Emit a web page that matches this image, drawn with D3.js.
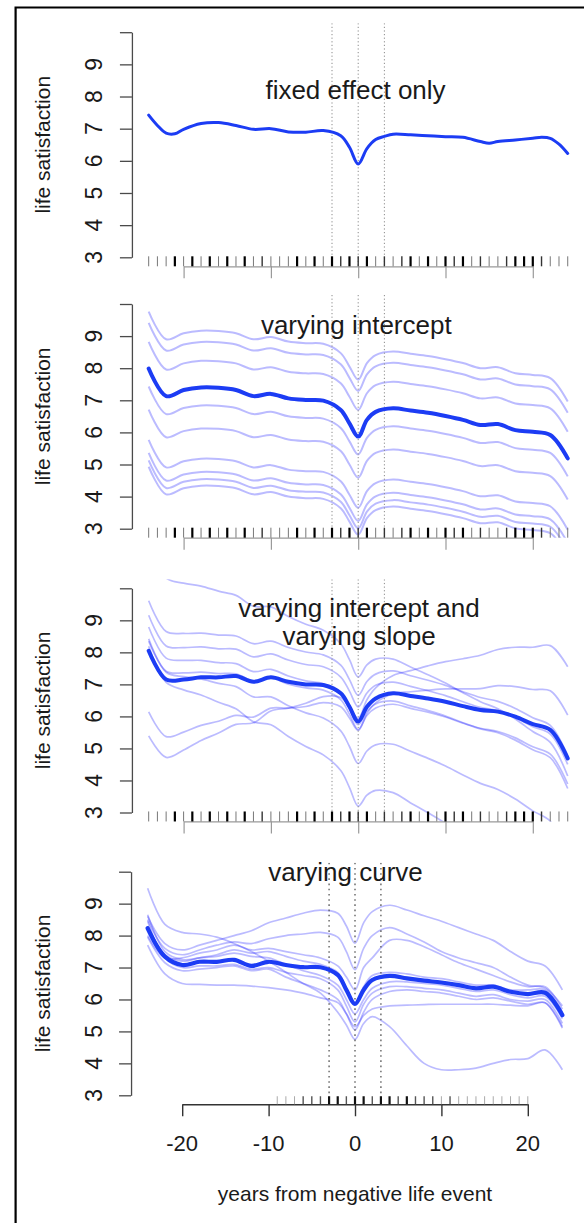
<!DOCTYPE html>
<html>
<head>
<meta charset="utf-8">
<script src="https://cdn.jsdelivr.net/npm/d3@7"></script>
<style>
body { margin: 0; background: #fff; }
svg { display: block; }
text { font-family: "Liberation Sans", Arial, Helvetica, sans-serif; fill: #1a1a1a; }
</style>
</head>
<body>
<script>
// ---- data ----
var years = [-24,-22,-20,-18,-16,-14,-12,-10,-8,-6,-4,-2,-1,0,1,2,4,6,8,10,12,14,16,18,20,22,24];

var fixedYears = [-24,-23,-22,-21,-20,-18,-16,-14,-12,-10,-8,-6,-4,-2,-1,0,1,2,3,4,6,8,10,12,14,15,16,18,20,21,22,23,24];
var fixedOnly  = [7.42,7.1,6.86,6.84,6.98,7.16,7.19,7.1,6.98,7.0,6.9,6.89,6.94,6.78,6.42,5.9,6.38,6.66,6.76,6.83,6.81,6.78,6.75,6.73,6.6,6.55,6.6,6.65,6.7,6.73,6.7,6.52,6.23];

var interceptMean = [7.99,7.13,7.32,7.4,7.39,7.32,7.13,7.2,7.06,7.01,6.99,6.7,6.28,5.87,6.39,6.64,6.75,6.68,6.61,6.51,6.39,6.23,6.26,6.07,6.02,5.92,5.19];
var interceptPersons = [
  [9.76,8.9,9.09,9.17,9.16,9.09,8.9,8.97,8.83,8.78,8.76,8.47,8.05,7.64,8.16,8.41,8.52,8.45,8.38,8.28,8.16,8.0,8.03,7.84,7.79,7.69,6.96],
  [9.41,8.55,8.74,8.82,8.81,8.74,8.55,8.62,8.48,8.43,8.41,8.12,7.7,7.29,7.81,8.06,8.17,8.1,8.03,7.93,7.81,7.65,7.68,7.49,7.44,7.34,6.61],
  [8.82,7.96,8.15,8.23,8.22,8.15,7.96,8.03,7.89,7.84,7.82,7.53,7.11,6.7,7.22,7.47,7.58,7.51,7.44,7.34,7.22,7.06,7.09,6.9,6.85,6.75,6.02],
  [7.43,6.57,6.76,6.84,6.83,6.76,6.57,6.64,6.5,6.45,6.43,6.14,5.72,5.31,5.83,6.08,6.19,6.12,6.05,5.95,5.83,5.67,5.7,5.51,5.46,5.36,4.63],
  [6.71,5.85,6.04,6.12,6.11,6.04,5.85,5.92,5.78,5.73,5.71,5.42,5.0,4.59,5.11,5.36,5.47,5.4,5.33,5.23,5.11,4.95,4.98,4.79,4.74,4.64,3.91],
  [5.77,4.91,5.1,5.18,5.17,5.1,4.91,4.98,4.84,4.79,4.77,4.48,4.06,3.65,4.17,4.42,4.53,4.46,4.39,4.29,4.17,4.01,4.04,3.85,3.8,3.7,2.97],
  [5.36,4.5,4.69,4.77,4.76,4.69,4.5,4.57,4.43,4.38,4.36,4.07,3.65,3.24,3.76,4.01,4.12,4.05,3.98,3.88,3.76,3.6,3.63,3.44,3.39,3.29,2.56],
  [5.13,4.27,4.46,4.54,4.53,4.46,4.27,4.34,4.2,4.15,4.13,3.84,3.42,3.01,3.53,3.78,3.89,3.82,3.75,3.65,3.53,3.37,3.4,3.21,3.16,3.06,2.33],
  [4.93,4.07,4.26,4.34,4.33,4.26,4.07,4.14,4.0,3.95,3.93,3.64,3.22,2.81,3.33,3.58,3.69,3.62,3.55,3.45,3.33,3.17,3.2,3.01,2.96,2.86,2.13]
];

var slopeMean = [8.05,7.15,7.15,7.22,7.22,7.26,7.08,7.22,7.08,7.0,6.98,6.72,6.3,5.84,6.3,6.56,6.72,6.64,6.56,6.46,6.32,6.2,6.15,5.99,5.76,5.58,4.69];
var slopePersons = [
  [11.38,10.32,10.16,10.07,9.91,9.78,9.44,9.42,9.12,8.88,8.69,8.27,7.77,7.23,7.61,7.79,7.79,7.54,7.3,7.04,6.74,6.46,6.24,5.92,5.53,5.19,4.14],
  [9.61,8.65,8.59,8.6,8.54,8.51,8.27,8.35,8.15,8.01,7.92,7.6,7.15,6.66,7.09,7.32,7.42,7.27,7.13,6.97,6.77,6.59,6.47,6.25,5.96,5.72,4.77],
  [9.16,8.2,8.15,8.17,8.11,8.1,7.86,7.95,7.76,7.62,7.55,7.23,6.79,6.3,6.73,6.97,7.07,6.94,6.8,6.65,6.46,6.28,6.18,5.96,5.68,5.45,4.5],
  [8.35,7.41,7.36,7.38,7.34,7.33,7.11,7.2,7.01,6.89,6.82,6.52,6.07,5.59,6.03,6.26,6.38,6.25,6.13,5.98,5.79,5.63,5.53,5.33,5.05,4.82,3.89],
  [8.79,7.82,7.75,7.75,7.68,7.65,7.4,7.47,7.26,7.11,7.02,6.69,6.23,5.74,6.16,6.39,6.48,6.33,6.18,6.01,5.8,5.61,5.49,5.26,4.96,4.71,3.75],
  [5.39,4.72,4.95,5.25,5.48,5.75,5.8,6.17,6.26,6.41,6.62,6.59,6.28,5.94,6.52,6.89,7.28,7.43,7.58,7.71,7.8,7.91,8.09,8.16,8.16,8.21,7.55],
  [6.14,5.37,5.51,5.72,5.85,6.03,5.98,6.26,6.26,6.31,6.43,6.3,5.95,5.56,6.09,6.42,6.71,6.77,6.82,6.86,6.86,6.87,6.96,6.93,6.84,6.8,6.04],
  [8.19,7.06,6.83,6.67,6.44,6.24,5.83,5.74,5.37,5.06,4.8,4.31,3.78,3.2,3.54,3.69,3.62,3.3,2.99,2.66,2.29,1.94,1.65,1.26,0.8,0.39,-0.73],
  [8.42,7.38,7.24,7.17,7.03,6.93,6.61,6.61,6.33,6.11,5.95,5.55,5.06,4.53,4.92,5.11,5.13,4.91,4.69,4.45,4.17,3.91,3.72,3.42,3.05,2.73,1.7]
];

var curveMean = [8.23,7.34,7.08,7.18,7.18,7.24,7.05,7.18,7.08,7.01,7.01,6.77,6.3,5.86,6.3,6.61,6.74,6.66,6.59,6.53,6.45,6.35,6.4,6.24,6.17,6.21,5.51];
var curvePersons = [
  [9.48,8.35,8.1,8.05,7.95,7.75,7.5,7.2,6.85,6.5,6.2,5.6,5.2,4.75,5.25,5.46,5.15,4.55,4.0,3.8,3.8,3.85,4.0,4.12,4.15,4.42,3.8],
  [8.6,7.75,7.55,7.7,7.85,8.0,8.15,8.4,8.55,8.7,8.8,8.7,8.3,7.76,8.4,8.75,8.95,8.8,8.62,8.45,8.25,8.05,7.85,7.5,7.2,7.05,6.3],
  [8.5,7.6,7.4,7.55,7.7,7.8,7.75,7.9,8.0,8.05,8.1,7.95,7.5,6.93,7.6,8.0,8.25,8.05,7.8,7.5,7.3,7.15,7.0,6.7,6.45,6.35,5.8],
  [8.0,7.3,7.3,7.45,7.55,7.7,7.55,7.6,7.5,7.4,7.3,7.05,6.7,6.3,7.0,7.3,7.85,7.85,7.65,7.4,7.15,6.95,6.75,6.55,6.4,6.4,5.7],
  [7.7,6.8,6.5,6.47,6.45,6.45,6.42,6.37,6.3,6.2,6.05,5.9,5.55,5.15,5.5,5.7,5.8,5.82,5.84,5.85,5.85,5.85,5.85,5.82,5.8,5.9,5.15],
  [8.65,7.5,7.25,7.3,7.35,7.45,7.35,7.3,7.1,6.9,6.75,6.45,6.0,5.55,6.0,6.35,6.55,6.55,6.5,6.45,6.35,6.25,6.3,6.15,6.05,6.1,5.4],
  [8.45,7.3,7.0,7.05,7.05,7.1,6.95,7.0,6.85,6.75,6.65,6.3,5.8,5.3,5.85,6.2,6.4,6.4,6.35,6.3,6.2,6.1,6.15,6.0,5.95,6.0,5.25],
  [7.95,7.15,6.9,6.95,7.0,7.05,6.9,6.95,6.7,6.5,6.3,6.0,5.55,5.05,5.6,6.0,6.25,6.3,6.25,6.2,6.1,6.0,6.05,5.95,5.85,5.9,5.1],
  [8.3,7.4,7.2,7.3,7.4,7.55,7.45,7.5,7.35,7.2,7.1,6.85,6.35,5.85,6.4,6.75,6.85,6.8,6.7,6.65,6.55,6.45,6.45,6.3,6.3,6.3,5.6]
];

// rug of observation years (darkness = how many observations)
var rugYears = [-24,-23,-22,-21,-20,-19,-18,-17,-16,-15,-14,-13,-12,-11,-10,-9,-8,-7,-6,-5,-4,-3,-2,-1,0,1,2,3,4,5,6,7,8,9,10,11,12,13,14,15,16,17,18,19,20,21,22,23,24];
var rugWeight = [1,1,1,3,1,3,1,3,1,3,1,3,1,2,1,1,1,3,1,3,1,3,2,3,2,3,1,2,1,2,3,1,3,1,3,2,3,1,2,1,1,2,3,3,3,2,1,1,1];
var rugYears4 = [-9,-8,-7,-6,-5,-4,-3,-2,-1,0,1,2,3,4,5,6,7,8,9,10,11,12,13,14,15,16,17,18,19,20];
var rugWeight4 = [1,1,1,2,2,2,3,3,2,3,3,2,3,3,2,3,2,2,2,1,2,1,1,1,1,1,1,1,1,1];

var yTicks = [3,4,5,6,7,8,9,10];
var xTicks = [-20,-10,0,10,20];
var eventLines = [-3,0,3];

// ---- layout ----
var W = 584, H = 1223;
var svg = d3.select("body").append("svg")
    .attr("width", W)
    .attr("height", H);

// frame (only left and top edges are visible)
svg.append("path")
    .attr("d", "M15.6," + H + "V7.5H" + W)
    .attr("fill", "none")
    .attr("stroke", "#000")
    .attr("stroke-width", 2.2);

var panels = [
  {title: ["fixed effect only"], tx: 355.5, ty: 99, top: 32.2, bot: 257.3, x0: 358.2, ppu: 8.73,
   xs: fixedYears, main: fixedOnly, mainW: 3, persons: [], thinW: 1.7,
   rx: rugYears, rw: rugWeight, last: false},
  {title: ["varying intercept"], tx: 356.3, ty: 334, top: 304.0, bot: 528.7, x0: 358.2, ppu: 8.73,
   xs: years, main: interceptMean, mainW: 4, persons: interceptPersons, thinW: 2,
   rx: rugYears, rw: rugWeight, last: false},
  {title: ["varying intercept and", "varying slope"], tx: 359, ty: 616.5, top: 588.3, bot: 812.5, x0: 358.2, ppu: 8.73,
   xs: years, main: slopeMean, mainW: 4, persons: slopePersons, thinW: 1.7,
   rx: rugYears, rw: rugWeight, last: false},
  {title: ["varying curve"], tx: 345.5, ty: 880.5, top: 871.7, bot: 1095.3, x0: 355, ppu: 8.64,
   xs: years, main: curveMean, mainW: 4.2, persons: curvePersons, thinW: 1.7,
   rx: rugYears4, rw: rugWeight4, last: true}
];

var curve = d3.curveCatmullRom.alpha(0.5);

panels.forEach(function(p, pi) {
  var x = d3.scaleLinear().domain([-24, 24]).range([p.x0 - 24 * p.ppu, p.x0 + 24 * p.ppu]);
  var y = d3.scaleLinear().domain([3, 10]).range([p.bot, p.top]);
  var g = svg.append("g");

  var px0 = x(-25.92), px1 = Math.min(W, x(25.92));
  var py0 = y(10.28), py1 = y(2.72);

  svg.append("clipPath").attr("id", "clip" + pi)
    .append("rect")
    .attr("x", px0).attr("y", py0)
    .attr("width", px1 - px0).attr("height", py1 - py0);

  var plot = g.append("g").attr("clip-path", "url(#clip" + pi + ")");

  var line = d3.line()
      .x(function(d) { return x(d[0]); })
      .y(function(d) { return y(d[1]); })
      .curve(curve);

  plot.selectAll("path.person")
    .data(p.persons)
    .enter()
    .append("path")
    .attr("class", "person")
    .attr("d", function(d) { return line(d3.zip(p.xs, d)); })
    .attr("fill", "none")
    .attr("stroke", "rgba(20,20,255,0.29)")
    .attr("stroke-width", p.thinW)
    .attr("stroke-linejoin", "round");

  // event window
  plot.selectAll("line.event")
    .data(eventLines)
    .enter()
    .append("line")
    .attr("class", "event")
    .attr("x1", function(d) { return x(d); })
    .attr("x2", function(d) { return x(d); })
    .attr("y1", py0)
    .attr("y2", py1)
    .attr("stroke", p.last ? "#555" : "#8a8a8a")
    .attr("stroke-width", p.last ? 1.3 : 1)
    .attr("stroke-dasharray", p.last ? "1.6,3.6" : "1.2,2.4");

  plot.append("path")
    .attr("d", line(d3.zip(p.xs, p.main)))
    .attr("fill", "none")
    .attr("stroke", "#1c3cf4")
    .attr("stroke-width", p.mainW)
    .attr("stroke-linejoin", "round")
    .attr("stroke-linecap", "round");

  // y axis
  var yAxis = d3.axisLeft(y)
      .tickValues(yTicks)
      .tickSize(12)
      .tickSizeOuter(0)
      .tickFormat("");
  var ya = g.append("g")
      .attr("transform", "translate(" + px0 + ",0)")
      .call(yAxis);
  ya.selectAll("path, line").attr("stroke", "#4a4a4a").attr("stroke-width", 1.3);

  g.selectAll("text.ytick")
    .data(yTicks.filter(function(d) { return d < 10; }))
    .enter()
    .append("text")
    .attr("class", "ytick")
    .attr("transform", function(d) { return "translate(102," + y(d) + ") rotate(-90)"; })
    .attr("text-anchor", "middle")
    .attr("font-size", "23px")
    .text(function(d) { return d; });

  g.append("text")
    .attr("transform", "translate(50," + ((py0 + py1) / 2) + ") rotate(-90)")
    .attr("text-anchor", "middle")
    .attr("font-size", "21px")
    .text("life satisfaction");

  // x axis (only -20..20 span)
  var xa = d3.scaleLinear().domain([-20, 20]).range([x(-20), x(20)]);
  var xAxis = d3.axisBottom(xa)
      .tickValues(xTicks)
      .tickSize(12)
      .tickSizeOuter(0)
      .tickFormat("");
  var xg = g.append("g")
      .attr("transform", "translate(0," + py1 + ")")
      .call(xAxis);
  xg.selectAll("path, line")
    .attr("stroke", p.last ? "#333" : "#9a9a9a")
    .attr("stroke-width", p.last ? 1.4 : 1.2);

  // rug
  g.selectAll("line.rug")
    .data(d3.zip(p.rx, p.rw))
    .enter()
    .append("line")
    .attr("class", "rug")
    .attr("x1", function(d) { return x(d[0]); })
    .attr("x2", function(d) { return x(d[0]); })
    .attr("y1", py1 - (p.last ? 8 : 10))
    .attr("y2", py1)
    .attr("stroke", function(d) {
      if (p.last) return d[1] === 3 ? "#111" : d[1] === 2 ? "#555" : "#aaa";
      return d[1] === 3 ? "#000" : d[1] === 2 ? "#333" : "#777";
    })
    .attr("stroke-width", function(d) { return d[1] === 3 ? 2.2 : d[1] === 2 ? 1.4 : 1; });

  if (p.last) {
    g.selectAll("text.xtick")
      .data(xTicks)
      .enter()
      .append("text")
      .attr("class", "xtick")
      .attr("x", function(d) { return xa(d); })
      .attr("y", 1150.7)
      .attr("text-anchor", "middle")
      .attr("font-size", "22px")
      .text(function(d) { return d; });

    g.append("text")
      .attr("x", 355)
      .attr("y", 1201)
      .attr("text-anchor", "middle")
      .attr("font-size", "21px")
      .text("years from negative life event");
  }

  // title
  g.selectAll("text.title")
    .data(p.title)
    .enter()
    .append("text")
    .attr("class", "title")
    .attr("x", p.tx)
    .attr("y", function(d, i) { return p.ty + i * 28; })
    .attr("text-anchor", "middle")
    .attr("font-size", "26px")
    .text(function(d) { return d; });
});
</script>
</body>
</html>
